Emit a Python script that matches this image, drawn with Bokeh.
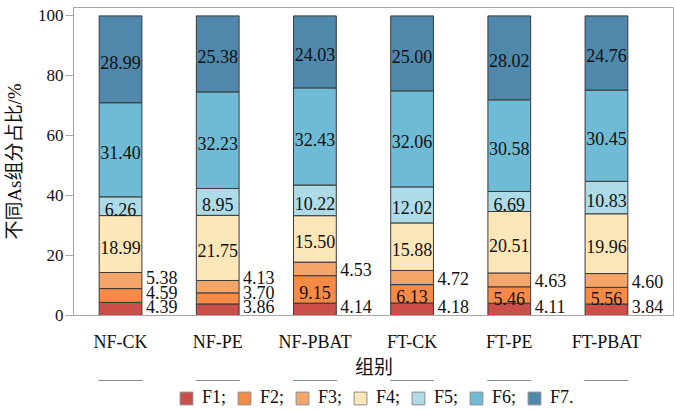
import numpy as np
from bokeh.plotting import figure
from bokeh.layouts import column
from bokeh.models import ColumnDataSource, Range1d, FixedTicker, Legend, LegendItem
from bokeh.core.properties import value
from bokeh.embed import file_html
from bokeh.resources import INLINE

# Arsenic fraction shares (%) per treatment group
groups = ["NF-CK", "NF-PE", "NF-PBAT", "FT-CK", "FT-PE", "FT-PBAT"]
fractions = ["F1", "F2", "F3", "F4", "F5", "F6", "F7"]
f1 = [4.39, 3.86, 4.14, 4.18, 4.11, 3.84]
f2 = [4.59, 3.70, 9.15, 6.13, 5.46, 5.56]
f3 = [5.38, 4.13, 4.53, 4.72, 4.63, 4.60]
f4 = [18.99, 21.75, 15.50, 15.88, 20.51, 19.96]
f5 = [6.26, 8.95, 10.22, 12.02, 6.69, 10.83]
f6 = [31.40, 32.23, 32.43, 32.06, 30.58, 30.45]
f7 = [28.99, 25.38, 24.03, 25.00, 28.02, 24.76]
legend_labels = ["F1;", "F2;", "F3;", "F4;", "F5;", "F6;", "F7."]
colors = ["#CC4E4A", "#F58B47", "#F4A66A", "#FDE7B8", "#ADDCE8", "#6FBBD6", "#4F88AB"]
y_ticks = [0, 20, 40, 60, 80, 100]
y_label = "不同As组分占比/%"
x_label = "组别"

SERIF = "Liberation Serif"
MIXED = "'Liberation Serif', 'Noto Sans CJK SC'"

series = [f1, f2, f3, f4, f5, f6, f7]
xs = np.arange(len(groups))
data = {"x": xs}
for name, vals in zip(fractions, series):
    data[name] = vals
source = ColumnDataSource(data)

bar_width = 0.44

p = figure(frame_width=601, frame_height=308,
           x_range=Range1d(-0.484, 5.70), y_range=Range1d(0, 102.8),
           output_backend="svg", toolbar_location=None,
           min_border_left=73, min_border_right=0, min_border_top=7,
           min_border_bottom=0)

p.vbar_stack(fractions, x="x", width=bar_width, source=source,
             color=colors, line_color="#3a3a3a", line_width=1)

# Segment value labels: inside for wide segments, right of the bar otherwise
in_x, in_y, in_t = [], [], []
out_x, out_y, out_t = [], [], []
gap = 4.8
for i in range(len(groups)):
    base = 0.0
    last_out = None
    for k, vals in enumerate(series):
        v = vals[i]
        center = base + v / 2
        base += v
        txt = f"{v:.2f}"
        outside = k in (0, 2) or v < 5
        if outside:
            yl = max(center, 3.3) if last_out is None else max(center, last_out + gap)
            last_out = yl
            out_x.append(xs[i] + bar_width / 2)
            out_y.append(yl)
            out_t.append(txt)
        else:
            in_x.append(xs[i])
            in_y.append(center)
            in_t.append(txt)

p.text(x=in_x, y=in_y, text=in_t, text_align="center", text_baseline="middle",
       y_offset=3, text_font=value(SERIF), text_font_size="18px", text_color="#111111")
p.text(x=out_x, y=out_y, text=out_t, text_align="left", text_baseline="middle",
       x_offset=4, y_offset=1, text_font=value(SERIF), text_font_size="18px",
       text_color="#111111")

# Axes
p.xgrid.visible = False
p.ygrid.visible = False
p.outline_line_color = "#a6a6a6"

p.yaxis.ticker = FixedTicker(ticks=y_ticks)
p.yaxis.major_tick_out = 8
p.yaxis.major_tick_in = 0
p.yaxis.minor_tick_line_color = None
p.yaxis.major_label_standoff = 2
p.yaxis.axis_label = y_label
p.yaxis.axis_label_standoff = 10
p.yaxis.major_tick_line_color = "#a6a6a6"

p.xaxis.ticker = FixedTicker(ticks=list(xs))
p.xaxis.major_label_overrides = {int(i): g for i, g in zip(xs, groups)}
p.xaxis.major_tick_line_color = None
p.xaxis.minor_tick_line_color = None
p.xaxis.major_tick_out = 0
p.xaxis.major_tick_in = 0
p.xaxis.major_label_standoff = 16
p.xaxis.axis_label = x_label
p.xaxis.axis_label_standoff = 2

for ax in (p.xaxis, p.yaxis):
    ax.axis_line_color = "#a6a6a6"
    ax.major_label_text_font = SERIF
    ax.major_label_text_font_size = "18px"
    ax.major_label_text_color = "#111111"
    ax.axis_label_text_font = MIXED
    ax.axis_label_text_font_size = "19px"
    ax.axis_label_text_font_style = "normal"
    ax.axis_label_text_color = "#111111"
p.yaxis.major_label_text_font_size = "17px"

# Legend strip underneath the chart; its stacked bars sit far outside the
# visible range so only the legend swatches show
key = figure(width=674, height=28, output_backend="svg", toolbar_location=None,
             x_axis_location=None, y_axis_location=None, min_border=0,
             outline_line_color=None,
             x_range=Range1d(-0.484, 5.70), y_range=Range1d(-1000, -999))
key.xgrid.visible = False
key.ygrid.visible = False
swatches = key.vbar_stack(fractions, x="x", width=bar_width, source=source,
                          color=colors, line_color="#8c8c8c", line_width=1)
legend = Legend(items=[LegendItem(label=lab, renderers=[r]) for lab, r in zip(legend_labels, swatches)],
                orientation="horizontal", location=(105, 0),
                glyph_width=16, glyph_height=16, label_height=16, label_standoff=8, spacing=10,
                padding=0, margin=0, border_line_color=None, background_fill_alpha=0,
                label_text_font=SERIF, label_text_font_size="18px", label_text_color="#111111")
key.add_layout(legend)

open("out.html", "w").write(file_html(column(p, key), INLINE))
